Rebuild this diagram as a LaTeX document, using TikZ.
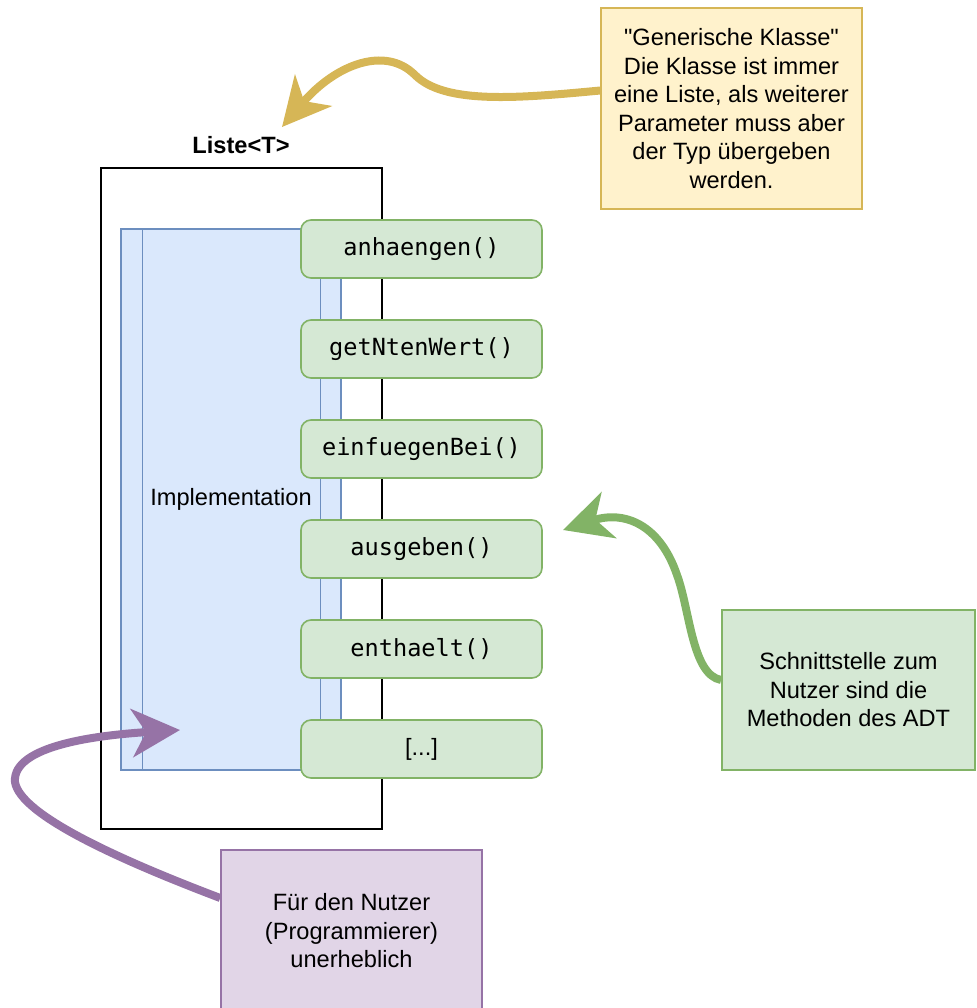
\documentclass[tikz,border=0pt]{standalone}
\usepackage{fontspec}
\setmainfont{Liberation Sans}[Ligatures=TeXOff]
\setmonofont{DejaVu Sans Mono}
\usetikzlibrary{shapes,arrows.meta}
\definecolor{implfill}{HTML}{DAE8FC}
\definecolor{impldraw}{HTML}{6C8EBF}
\definecolor{methfill}{HTML}{D5E8D4}
\definecolor{methdraw}{HTML}{82B366}
\definecolor{notefill}{HTML}{FFF2CC}
\definecolor{notedraw}{HTML}{D6B656}
\definecolor{userfill}{HTML}{E1D5E7}
\definecolor{userdraw}{HTML}{9673A6}

\begin{document}
\begin{tikzpicture}[
	x=0.5pt, y=-0.5pt,
	every node/.style={
		font=\fontsize{11.8}{14.25}\selectfont},
	frame/.style={
		rectangle,
		draw,
		line width=1pt,
		minimum width=140.5pt,
		minimum height=330.5pt},
	impl/.style={
		rectangle,
		draw=impldraw,
		fill=implfill,
		line width=0.6pt,
		minimum width=110pt,
		minimum height=270.5pt,
		inner sep=0pt},
	method/.style={
		node distance=50pt,
		rectangle,
		rounded corners=5pt,
		draw=methdraw,
		fill=methfill,
		line width=0.8pt,
		minimum width=120.5pt,
		minimum height=29pt,
		font=\fontsize{11.8}{14.25}\selectfont\ttfamily},
	note/.style={
		rectangle,
		draw=#1draw,
		fill=#1fill,
		line width=0.8pt,
		align=center},
	line/.style={
		draw=#1draw,
		line width=4pt,
		-{Stealth[length=24pt,width=24pt,inset=7pt]}}]

    \useasboundingbox (0,0) rectangle (976,1008);

    % Place nodes
    \node [frame] (liste) at (241.5,498.5) {};
    \node [font=\fontsize{11.8}{14.25}\selectfont\bfseries] (title) at (241,145) {Liste<T>};
    \node [impl] (impl) at (231,499.5) {Implementation};
    \draw [impldraw, line width=0.6pt] ([xshift=11pt]impl.north west) -- ([xshift=11pt]impl.south west);
    \draw [impldraw, line width=0.6pt] ([xshift=-10.5pt]impl.north east) -- ([xshift=-10.5pt]impl.south east);
    \node [method] (anhaengen) at (421.5,249) {anhaengen()};
    \node [method, below of=anhaengen] (getnten) {getNtenWert()};
    \node [method, below of=getnten] (einfuegen) {einfuegenBei()};
    \node [method, below of=einfuegen] (ausgeben) {ausgeben()};
    \node [method, below of=ausgeben] (enthaelt) {enthaelt()};
    \node [method, below of=enthaelt, font=\fontsize{11.8}{14.25}\selectfont\rmfamily] (rest) {[...]};
    \node [note=note, minimum width=130.5pt, minimum height=100.5pt] (generic) at (731.5,108.5)
        {"Generische Klasse"\\Die Klasse ist immer\\eine Liste, als weiterer\\Parameter muss aber\\der Typ übergeben\\werden.};
    \node [note=meth, minimum width=126.5pt, minimum height=80pt] (iface) at (848.5,690)
        {Schnittstelle zum\\Nutzer sind die\\Methoden des ADT};
    \node [note=user, minimum width=130.5pt, minimum height=81pt] (user) at (351.5,931)
        {Für den Nutzer\\(Programmierer)\\unerheblich};
    \coordinate (typetip) at (282,127);
    \coordinate (impltip) at (180,730);
    \coordinate (methtip) at (563,530);

    % Draw edges
    \path [line=note] ([yshift=9pt]generic.west) .. controls (520,98) and (445,105) .. (415,75)
        .. controls (385,45) and (335,65) .. (typetip);
    \path [line=meth] ([yshift=5pt]iface.west) .. controls (692,675) and (690,610) .. (677,575)
        .. controls (660,525) and (625,510) .. (methtip);
    \path [line=user] ([yshift=16.5pt]user.west) .. controls (120,860) and (20,815) .. (15,782)
        .. controls (12,745) and (100,735) .. (impltip);
\end{tikzpicture}
\end{document}
